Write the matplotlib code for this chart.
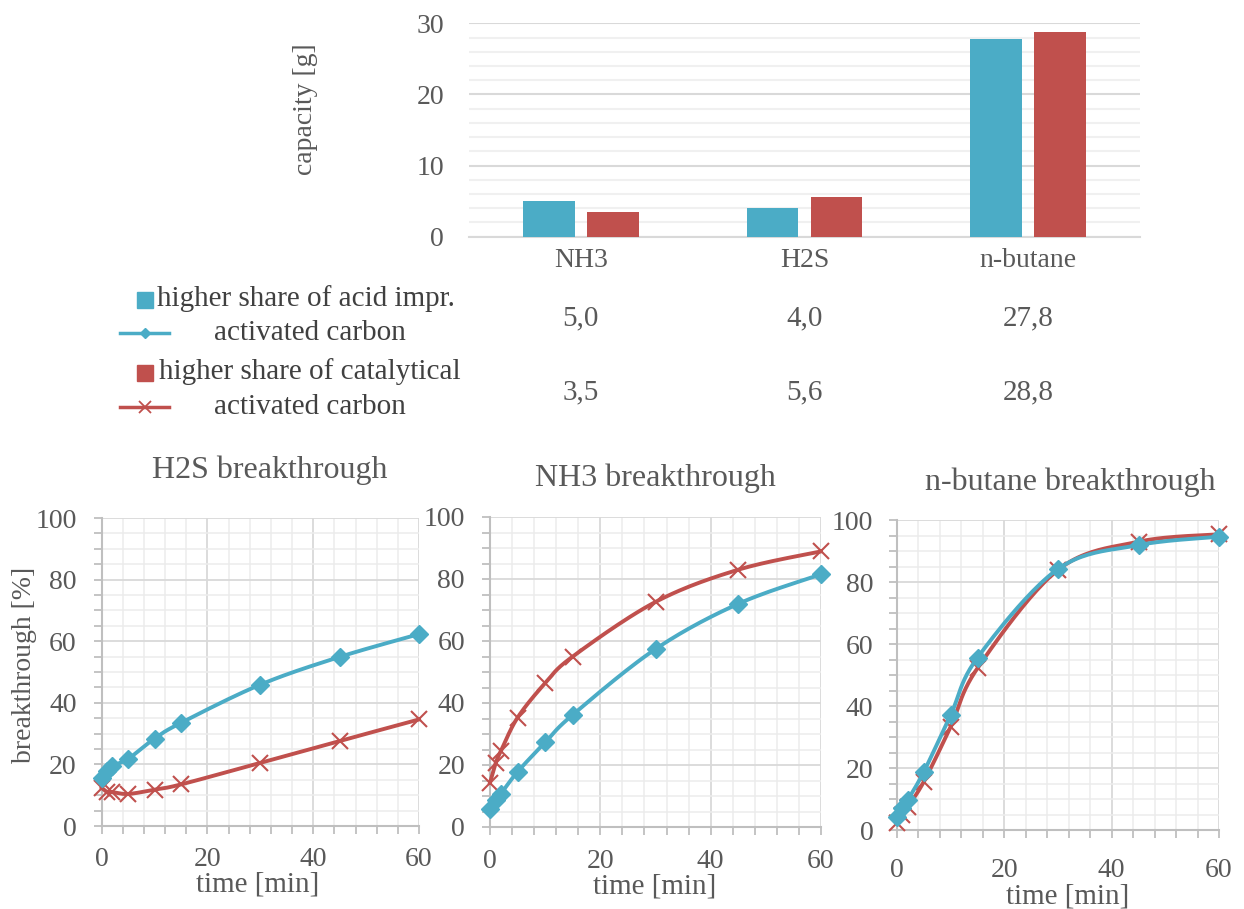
import numpy as np
import matplotlib
matplotlib.use('Agg')
import matplotlib.pyplot as plt
from matplotlib.ticker import MultipleLocator
from matplotlib.transforms import blended_transform_factory
from matplotlib.patches import Rectangle

plt.rcParams['font.family'] = ['Liberation Serif', 'DejaVu Serif']

# Capacity data (bar chart + data table)
gases = ['NH3', 'H2S', 'n-butane']
cap_acid = [5.0, 4.0, 27.8]
cap_cat = [3.5, 5.6, 28.8]

# Breakthrough curves
time = [0, 1, 2, 5, 10, 15, 30, 45, 60]
h2s_acid = [15.6, 17.8, 19.5, 21.8, 28.4, 33.5, 45.9, 54.9, 62.3]
h2s_cat = [12.4, 11.1, 11.0, 10.4, 11.8, 13.5, 20.5, 27.6, 34.6]
nh3_acid = [5.8, 8.7, 10.8, 17.8, 27.3, 36.2, 57.4, 72.0, 81.5]
nh3_cat = [14.3, 20.5, 24.6, 35.3, 46.4, 55.0, 72.6, 83.0, 88.9]
but_acid = [4.3, 7.0, 9.7, 18.8, 37.1, 55.6, 84.2, 91.9, 94.6]
but_cat = [2.4, 4.8, 7.5, 15.6, 33.3, 52.2, 83.9, 93.0, 95.4]

lab_acid = 'higher share of acid impr.'
lab_cat = 'higher share of catalytical'
lab_ac = 'activated carbon'

BLUE = '#4BACC6'
RED = '#C0504D'
TXT = '#595959'
W, H = 1244, 909


def smooth(x, y, n=25):
    # Excel-like smoothed line (Catmull-Rom style bezier segments)
    x = np.asarray(x, float)
    y = np.asarray(y, float)
    px = np.r_[x[0], x, x[-1]]
    py = np.r_[y[0], y, y[-1]]
    t = np.linspace(0, 1, n)[:, None]
    pts = []
    for i in range(len(x) - 1):
        p0 = np.array([px[i], py[i]])
        p1 = np.array([px[i + 1], py[i + 1]])
        p2 = np.array([px[i + 2], py[i + 2]])
        p3 = np.array([px[i + 3], py[i + 3]])
        c1 = p1 + (p2 - p0) / 6
        c2 = p2 - (p3 - p1) / 6
        seg = ((1 - t) ** 3) * p1 + 3 * ((1 - t) ** 2) * t * c1 + 3 * (1 - t) * t ** 2 * c2 + t ** 3 * p2
        pts.append(seg if i == 0 else seg[1:])
    pts = np.vstack(pts)
    return pts[:, 0], pts[:, 1]


def fx(px):
    return px / W


def fy(py):
    return 1 - py / H


fig = plt.figure(figsize=(12.44, 9.09), dpi=100)

# ---- bar chart ----
ax = fig.add_axes([fx(469), fy(236.7), 671 / W, 213.4 / H])
x = np.arange(len(gases))
ax.bar(x - 0.143, cap_acid, width=0.232, color=BLUE, zorder=3)
ax.bar(x + 0.143, cap_cat, width=0.232, color=RED, zorder=3)
ax.set_xlim(-0.5, 2.5)
ax.set_ylim(0, 30)
ax.yaxis.set_major_locator(MultipleLocator(10))
ax.yaxis.set_minor_locator(MultipleLocator(2))
ax.grid(axis='y', which='major', color='#d9d9d9', lw=1.5)
ax.grid(axis='y', which='minor', color='#f0f0f0', lw=1.5)
ax.set_axisbelow(True)
for s in ['top', 'right', 'left']:
    ax.spines[s].set_visible(False)
ax.spines['bottom'].set_color('#d9d9d9')
ax.spines['bottom'].set_linewidth(1.5)
ax.set_xticks(x)
ax.set_xticklabels(gases)
ax.tick_params(axis='y', which='both', length=0, pad=18, labelsize=20, labelcolor=TXT)
ax.tick_params(axis='x', which='both', length=0, pad=8, labelsize=20, labelcolor=TXT)
fig.text(fx(305), fy(109), 'capacity [g]', rotation=90, ha='center', va='center',
         fontsize=20, color=TXT)

# data table values
tr = blended_transform_factory(ax.transData, fig.transFigure)
for i in range(len(gases)):
    ax.text(x[i], fy(318), f'{cap_acid[i]:.1f}'.replace('.', ','), transform=tr,
            ha='center', va='center', fontsize=21, color=TXT)
    ax.text(x[i], fy(392), f'{cap_cat[i]:.1f}'.replace('.', ','), transform=tr,
            ha='center', va='center', fontsize=21, color=TXT)

# legend keys drawn in pixel coordinates
ov = fig.add_axes([0, 0, 1, 1])
ov.set_xlim(0, W)
ov.set_ylim(H, 0)
ov.axis('off')
ov.patch.set_alpha(0)
ov.add_patch(Rectangle((137, 292), 16, 16, color=BLUE))
ov.add_patch(Rectangle((137, 365), 16, 16, color=RED))
ov.plot([120, 169], [333, 333], color=BLUE, lw=2.5)
ov.plot([145], [333], marker='D', color=BLUE, ms=5)
ov.plot([120, 169], [407, 407], color=RED, lw=2.5)
ov.plot([145], [407], marker='x', color=RED, ms=8, mew=1.3)
fig.text(fx(306), fy(299), lab_acid, ha='center', va='center', fontsize=21, color='#404040')
fig.text(fx(310), fy(333), lab_ac, ha='center', va='center', fontsize=21, color='#404040')
fig.text(fx(310), fy(372), lab_cat, ha='center', va='center', fontsize=21, color='#404040')
fig.text(fx(310), fy(407), lab_ac, ha='center', va='center', fontsize=21, color='#404040')


# ---- breakthrough charts ----
def bt_axes(rect, acid, cat, title, tpos, xlpos, xpad, ypad):
    a = fig.add_axes(rect)
    a.set_xlim(0, 60)
    a.set_ylim(0, 100)
    a.xaxis.set_major_locator(MultipleLocator(20))
    a.xaxis.set_minor_locator(MultipleLocator(4))
    a.yaxis.set_major_locator(MultipleLocator(20))
    a.yaxis.set_minor_locator(MultipleLocator(5))
    a.grid(which='major', color='#d9d9d9', lw=1.3)
    a.grid(which='minor', color='#ececec', lw=1.1)
    a.set_axisbelow(True)
    for s in ['top', 'right']:
        a.spines[s].set_visible(False)
    for s in ['left', 'bottom']:
        a.spines[s].set_color('#bfbfbf')
        a.spines[s].set_linewidth(1.5)
    a.tick_params(which='both', direction='out', length=6, width=1.3, color='#bfbfbf',
                  labelsize=20, labelcolor=TXT)
    a.tick_params(axis='x', which='major', pad=xpad)
    a.tick_params(axis='y', which='major', pad=ypad)
    sx, sy = smooth(time, cat)
    a.plot(sx, sy, color=RED, lw=2.8, clip_on=False, zorder=3)
    a.plot(time, cat, ls='none', marker='x', ms=12, mew=1.5, color=RED, clip_on=False, zorder=4)
    sx, sy = smooth(time, acid)
    a.plot(sx, sy, color=BLUE, lw=2.8, clip_on=False, zorder=5)
    a.plot(time, acid, ls='none', marker='D', ms=9, color=BLUE, clip_on=False, zorder=6)
    fig.text(fx(tpos[0]), fy(tpos[1]), title, ha='center', va='center', fontsize=23, color=TXT)
    fig.text(fx(xlpos[0]), fy(xlpos[1]), 'time [min]', ha='center', va='center', fontsize=21, color=TXT)
    return a


a1 = bt_axes([fx(101.7), fy(826), 317.3 / W, 308 / H], h2s_acid, h2s_cat,
             'H2S breakthrough', (270, 470), (258, 884), 9, 12)
a2 = bt_axes([fx(490), fy(827), 331 / W, 310 / H], nh3_acid, nh3_cat,
             'NH3 breakthrough', (655, 478), (655, 886), 10, 12)
a3 = bt_axes([fx(897), fy(830), 322 / W, 310 / H], but_acid, but_cat,
             'n-butane breakthrough', (1070, 482), (1068, 896), 14, 11)
fig.text(fx(25), fy(665), 'breakthrough [%]', rotation=90, ha='center', va='center',
         fontsize=20, color=TXT)

fig.savefig('out.png', dpi=100)
